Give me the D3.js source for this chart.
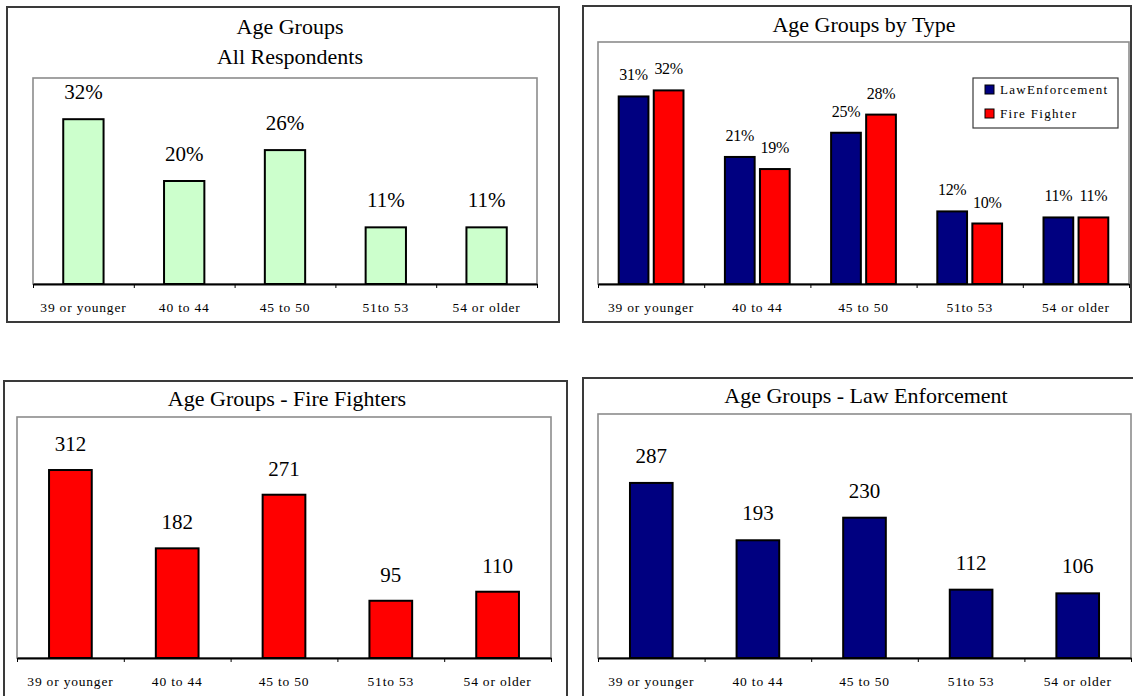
<!DOCTYPE html>
<html>
<head>
<meta charset="utf-8">
<script src="https://cdn.jsdelivr.net/npm/d3@7"></script>
<style>
  html, body { margin: 0; padding: 0; background: #ffffff; }
  svg { display: block; }
  text { font-family: "Liberation Serif", "Times New Roman", serif; fill: #000; }
</style>
</head>
<body>
<svg id="chart" width="1133" height="696"></svg>
<script>
// Age groups (x-axis categories)
const categories = ["39 or younger", "40 to 44", "45 to 50", "51to 53", "54 or older"];

// Share of all respondents per age group (%)
const allRespondentsPct = [32, 20, 26, 11, 11];

// Share within each respondent type (%)
const lawEnforcementPct = [31, 21, 25, 12, 11];
const fireFighterPct = [32, 19, 28, 10, 11];

// Respondent counts per age group
const fireFighterCounts = [312, 182, 271, 95, 110];
const lawEnforcementCounts = [287, 193, 230, 112, 106];

// Series names for the legend
const seriesNames = ["LawEnforcement", "Fire Fighter"];

const COLORS = { green: "#CCFFCC", navy: "#000080", red: "#FF0000" };

const svg = d3.select("#chart");
svg.append("rect").attr("width", 1133).attr("height", 696).attr("fill", "#fff");

function drawPanel(cfg) {
  const g = svg.append("g");

  // outer chart frame
  g.append("rect")
    .attr("x", cfg.outer.x).attr("y", cfg.outer.y)
    .attr("width", cfg.outer.w).attr("height", cfg.outer.h)
    .attr("fill", "#fff").attr("stroke", "#3a3a3a").attr("stroke-width", 2);

  // plot area frame
  const p = cfg.plot;
  g.append("rect")
    .attr("x", p.l).attr("y", p.t)
    .attr("width", p.r - p.l).attr("height", p.b - p.t)
    .attr("fill", "#fff").attr("stroke", "#8c8c8c").attr("stroke-width", 1.6);

  // title lines
  cfg.title.forEach((line, i) => {
    g.append("text")
      .attr("x", cfg.titleX).attr("y", cfg.titleY[i])
      .attr("text-anchor", "middle")
      .style("font-size", "22px")
      .text(line);
  });

  const x = d3.scaleBand().domain(categories).range([p.l, p.r]).paddingInner(0).paddingOuter(0);
  const y = d3.scaleLinear().domain([0, cfg.yMax]).range([p.b, p.t]);
  const bw = x.bandwidth();

  const nSeries = cfg.series.length;
  const barW = nSeries === 1 ? bw * 0.4 : bw * 0.28;
  const gap = nSeries === 1 ? 0 : bw * 0.05;
  const groupW = nSeries * barW + (nSeries - 1) * gap;

  cfg.series.forEach((s, si) => {
    const xOff = (bw - groupW) / 2 + si * (barW + gap);
    const data = categories.map((c, i) => ({ c, v: s.values[i] }));

    g.selectAll(null).data(data).enter().append("rect")
      .attr("x", d => x(d.c) + xOff)
      .attr("y", d => y(d.v))
      .attr("width", barW)
      .attr("height", d => y(0) - y(d.v))
      .attr("fill", s.color)
      .attr("stroke", "#000").attr("stroke-width", 2);

    g.selectAll(null).data(data).enter().append("text")
      .attr("x", d => x(d.c) + xOff + barW / 2)
      .attr("y", d => y(d.v) - cfg.labelGap)
      .attr("text-anchor", "middle")
      .style("font-size", cfg.labelSize + "px")
      .style("letter-spacing", cfg.labelSpacing || "0px")
      .text(d => cfg.fmt(d.v));
  });

  // category boundary ticks + axis line
  const edges = d3.scaleLinear().domain([0, categories.length]).range([p.l, p.r]);
  const axisG = g.append("g").attr("transform", `translate(0,${p.b})`)
    .call(d3.axisBottom(edges).tickValues(d3.range(categories.length + 1)).tickSize(4).tickSizeOuter(0).tickFormat(""));
  axisG.select(".domain").attr("stroke", "#000").attr("stroke-width", 2);
  axisG.selectAll(".tick line").attr("stroke", "#000").attr("stroke-width", 1);

  // category labels
  const labG = g.append("g").attr("transform", `translate(0,${p.b})`)
    .call(d3.axisBottom(x).tickSize(0).tickPadding(0));
  labG.select(".domain").remove();
  labG.selectAll(".tick text")
    .attr("y", 28).attr("dy", 0)
    .style("font-family", "'Liberation Serif', 'Times New Roman', serif")
    .style("font-size", "13.5px")
    .style("letter-spacing", "0.8px")
    .attr("fill", "#000");

  return g;
}

// Panel 1: all respondents
drawPanel({
  outer: { x: 7, y: 7, w: 552, h: 315 },
  plot: { l: 33, t: 78, r: 537, b: 284 },
  title: ["Age Groups", "All Respondents"], titleX: 290, titleY: [34, 64],
  yMax: 40,
  series: [{ values: allRespondentsPct, color: COLORS.green }],
  labelSize: 21, labelGap: 20, fmt: v => v + "%"
});

// Panel 2: by respondent type
const p2 = drawPanel({
  outer: { x: 583, y: 6, w: 548, h: 316 },
  plot: { l: 598, t: 42, r: 1129, b: 284 },
  title: ["Age Groups by Type"], titleX: 864, titleY: [32],
  yMax: 40,
  series: [
    { values: lawEnforcementPct, color: COLORS.navy },
    { values: fireFighterPct, color: COLORS.red }
  ],
  labelSize: 16, labelGap: 16, labelSpacing: "-0.3px", fmt: v => v + "%"
});

// Legend for panel 2
const legend = p2.append("g");
legend.append("rect")
  .attr("x", 973).attr("y", 78).attr("width", 145).attr("height", 50)
  .attr("fill", "#fff").attr("stroke", "#3a3a3a").attr("stroke-width", 1.2);
[COLORS.navy, COLORS.red].forEach((c, i) => {
  legend.append("rect")
    .attr("x", 985).attr("y", 85 + i * 24).attr("width", 9).attr("height", 9)
    .attr("fill", c).attr("stroke", "#000").attr("stroke-width", 1);
  legend.append("text")
    .attr("x", 1000).attr("y", 94 + i * 24)
    .style("font-size", "13px").style("letter-spacing", "1.3px")
    .text(seriesNames[i]);
});

// Panel 3: fire fighters (counts)
drawPanel({
  outer: { x: 4, y: 381, w: 563, h: 330 },
  plot: { l: 17, t: 417, r: 551, b: 658 },
  title: ["Age Groups - Fire Fighters"], titleX: 287, titleY: [406],
  yMax: 400,
  series: [{ values: fireFighterCounts, color: COLORS.red }],
  labelSize: 21, labelGap: 19, fmt: v => String(v)
});

// Panel 4: law enforcement (counts)
drawPanel({
  outer: { x: 583, y: 378, w: 570, h: 330 },
  plot: { l: 598, t: 414, r: 1131, b: 658 },
  title: ["Age Groups - Law Enforcement"], titleX: 866, titleY: [403],
  yMax: 400,
  series: [{ values: lawEnforcementCounts, color: COLORS.navy }],
  labelSize: 21, labelGap: 20, fmt: v => String(v)
});
</script>
</body>
</html>
